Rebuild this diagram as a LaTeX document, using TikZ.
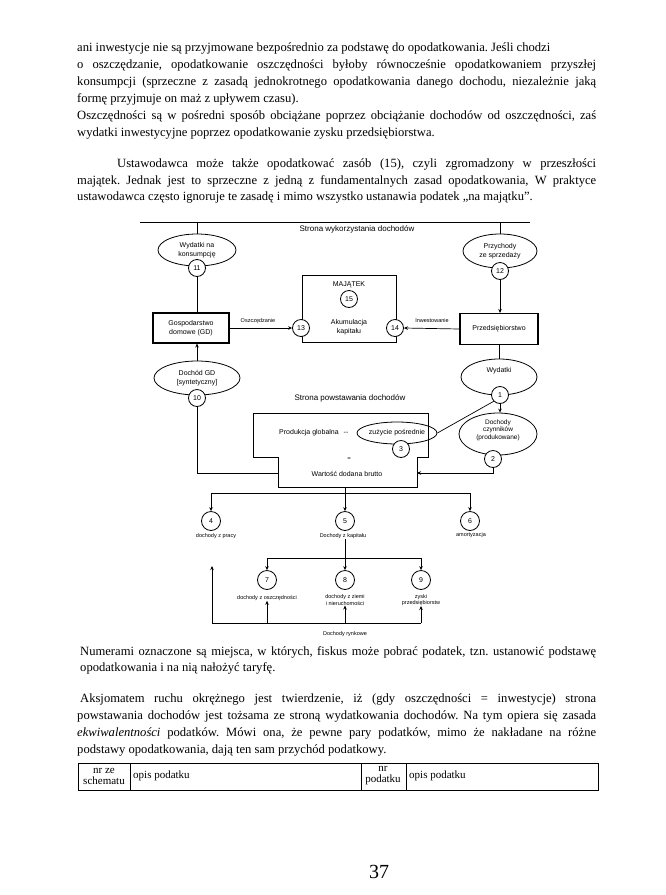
\documentclass[tikz,border=0pt]{standalone}
\usepackage{fontspec}
\setmainfont{Liberation Serif}
\newfontfamily\dia{Liberation Sans}
\usetikzlibrary{shapes.geometric,arrows.meta}
\frenchspacing
\begin{document}
\begin{tikzpicture}[x=1pt,y=-1pt,
  ln/.style={line width=0.7pt},
  arr/.style={line width=0.7pt,-{Stealth[length=4pt,width=3.5pt]}},
  circ/.style={circle,draw,fill=white,line width=0.8pt,minimum size=17pt,inner sep=0pt,font=\dia\fontsize{7}{8}\selectfont},
  bcirc/.style={circ,minimum size=19pt},
  ell/.style={ellipse,draw,line width=0.8pt,inner sep=0pt,align=center,font=\dia\fontsize{7}{9}\selectfont},
  bx/.style={draw,line width=1.1pt,align=center,inner sep=0pt,font=\dia\fontsize{7}{9}\selectfont},
  dtxt/.style={inner sep=0pt,align=center,font=\dia\fontsize{7}{9}\selectfont},
  lab/.style={inner sep=0pt,align=center,font=\dia\fontsize{5.5}{6.5}\selectfont},
  body/.style={anchor=base west,inner sep=0pt,font=\fontsize{12.6}{14}\selectfont},
  tab/.style={inner sep=0pt,align=center,font=\fontsize{11}{11}\selectfont}
]
\useasboundingbox[fill=white] (0,0) rectangle (666,895);

% ---------------- text above ----------------
\node[body] (p1) at (77,51) {ani inwestycje nie są przyjmowane bezpośrednio za podstawę do opodatkowania. Jeśli chodzi};
\node[body] (p2) at (77,68) {\makebox[519pt][s]{o oszczędzanie, opodatkowanie oszczędności byłoby równocześnie opodatkowaniem przyszłej}};
\node[body] (p3) at (77,85) {\makebox[519pt][s]{konsumpcji (sprzeczne z zasadą jednokrotnego opodatkowania danego dochodu, niezależnie jaką}};
\node[body] (p4) at (77,102) {formę przyjmuje on maż z upływem czasu).};
\node[body] (p5) at (77,119) {\makebox[519pt][s]{Oszczędności są w pośredni sposób obciążane poprzez obciążanie dochodów od oszczędności, zaś}};
\node[body] (p6) at (77,136) {wydatki inwestycyjne poprzez opodatkowanie zysku przedsiębiorstwa.};
\node[body] (p7) at (117,167) {\makebox[479pt][s]{Ustawodawca może także opodatkować zasób (15), czyli zgromadzony w przeszłości}};
\node[body] (p8) at (77,184) {\makebox[519pt][s]{majątek. Jednak jest to sprzeczne z jedną z fundamentalnych zasad opodatkowania, W praktyce}};
\node[body] (p9) at (77,200) {ustawodawca często ignoruje te zasadę i mimo wszystko ustanawia podatek „na majątku”.};

% ---------------- diagram ----------------
\coordinate (tl) at (140,222);
\coordinate (tr) at (530,222);
\coordinate (t1) at (197,222);
\coordinate (t2) at (500,222);
\draw[line width=1pt] (tl) -- (tr);
\node[dtxt,font=\dia\fontsize{8}{9}\selectfont] (swd) at (357,229) {Strona wykorzystania dochodów};

% left column
\node[ell,minimum width=78pt,minimum height=32pt] (wk) at (197,250) {Wydatki na\\konsumpcję};
\node[circ] (c11) at (197,268) {11};
\draw[ln] (t1) -- (wk.north);
\node[bx,minimum width=76pt,minimum height=30pt] (gd) at (191,328) {Gospodarstwo\\domowe (GD)};
\draw[ln] (c11.south) -- (c11.south |- gd.north);
\node[ell,minimum width=86pt,minimum height=34pt] (dgd) at (197,378) {Dochód GD\\{[}syntetyczny{]}};
\node[circ] (c10) at (197,398) {10};
\draw[arr] (dgd.north) -- (dgd.north |- gd.south);

% middle (majatek)
\node[draw,line width=0.9pt,minimum width=94pt,minimum height=67pt,inner sep=0pt] (mj) at (349,308.5) {};
\node[dtxt] (mjt) at (349,285) {MAJĄTEK};
\node[circ] (c15) at (349,299) {15};
\node[dtxt] (ak) at (349,327) {Akumulacja\\kapitału};
\node[circ] (c13) at (301,328) {13};
\node[circ] (c14) at (395,328) {14};
\draw[arr] (gd.east |- c13) -- (c13.west);
\node[lab] (losz) at (258,321) {Oszczędzanie};

% right column
\node[ell,minimum width=74pt,minimum height=34pt] (pz) at (500,251) {Przychody\\ze sprzedaży};
\node[circ] (c12) at (500,271) {12};
\draw[ln] (t2) -- (pz.north);
\node[bx,minimum width=78pt,minimum height=31pt] (pr) at (499,329) {Przedsiębiorstwo};
\draw[arr] (c12.south) -- (c12.south |- pr.north);
\draw[arr] (pr.west) -- (c14.east);
\node[lab] (linw) at (432,321) {Inwestowanie};
\node[ell,minimum width=76pt,minimum height=36pt] (wy) at (499,377) {Wydatki\\[6pt]};
\draw[ln] (pr.south -| wy.north) -- (wy.north);
\node[circ] (c1) at (500,395) {1};
\node[ell,minimum width=78pt,minimum height=42pt,font=\dia\fontsize{6.5}{7.5}\selectfont] (dc) at (498,434) {Dochody\\czynników\\(produkowane)\\[2pt]};
\draw[arr] (c1.south) -- (c1.south |- dc.north);
\node[circ] (c2) at (493,459) {2};

% production box
\node[dtxt,font=\dia\fontsize{8}{9}\selectfont] (spd) at (350,398) {Strona powstawania dochodów};
\coordinate (q1) at (253,413);
\coordinate (q2) at (428,413);
\coordinate (q3) at (428,457);
\coordinate (q4) at (417,457);
\coordinate (q5) at (417,487);
\coordinate (q6) at (278,487);
\coordinate (q7) at (278,457);
\coordinate (q8) at (253,457);
\draw[line width=0.9pt] (q1) -- (q2) -- (q3) -- (q4) -- (q5) -- (q6) -- (q7) -- (q8) -- cycle;
\node[dtxt] (pg) at (309,433) {Produkcja globalna};
\node[dtxt] (minus) at (346,433) {--};
\node[ell,minimum width=80pt,minimum height=22pt] (zp) at (397,433) {zużycie pośrednie};
\node[circ] (c3) at (401,449) {3};
\node[dtxt,font=\dia\fontsize{6}{6}\selectfont] (eq) at (349,459) {=};
\node[dtxt] (wdb) at (347,474) {Wartość dodana brutto};
\draw[ln] (c1.south west) -- (zp.east);
\coordinate (pl) at (278,473);
\coordinate (prr) at (417,473);
\draw[ln] (c10.south) |- (pl);
\draw[arr] (c2.south) |- (prr);

% distribution
\coordinate (pb) at (345,487);
\coordinate (hb) at (345,493);
\node[bcirc] (c4) at (211,521) {4};
\node[bcirc] (c5) at (345,521) {5};
\node[bcirc] (c6) at (470,521) {6};
\draw[ln] (pb) -- (hb);
\draw[ln] (c4.north |- hb) -- (c6.north |- hb);
\draw[arr] (c4.north |- hb) -- (c4.north);
\draw[arr] (hb) -- (c5.north);
\draw[arr] (c6.north |- hb) -- (c6.north);
\node[lab] (l4) at (216,536) {dochody z pracy};
\node[lab] (l5) at (343,536) {Dochody z kapitału};
\node[lab] (l6) at (471,535) {amortyzacja};

\coordinate (h2) at (345,558);
\node[bcirc] (c7) at (267,580) {7};
\node[bcirc] (c8) at (345,580) {8};
\node[bcirc] (c9) at (421,580) {9};
\draw[ln] (l5.south -| h2) -- (h2);
\draw[ln] (c7.north |- h2) -- (c9.north |- h2);
\draw[arr] (c7.north |- h2) -- (c7.north);
\draw[arr] (h2) -- (c8.north);
\draw[arr] (c9.north |- h2) -- (c9.north);
\node[lab] (l7) at (267,598) {dochody z oszczędności};
\node[lab] (l8) at (345,600) {dochody z ziemi\\i nieruchomości};
\node[lab] (l9) at (421,600) {zyski\\przedsiębiorstw};

\coordinate (b1) at (212,623);
\coordinate (b2) at (421,623);
\coordinate (btop) at (212,566);
\draw[ln] (b1) -- (b2);
\draw[arr] (b1) -- (btop);
\draw[arr] (l7.south |- b1) -- (l7.south);
\draw[arr] (l8.south |- b1) -- (l8.south);
\draw[arr] (b2) -- (l9.south -| b2);
\node[lab] (ldr) at (345,634) {Dochody rynkowe};

% ---------------- text below ----------------
\node[body] (n1) at (80,655) {\makebox[516pt][s]{Numerami oznaczone są miejsca, w których, fiskus może pobrać podatek, tzn. ustanowić podstawę}};
\node[body] (n2) at (80,671) {opodatkowania i na nią nałożyć taryfę.};
\node[body] (a1) at (80,702) {\makebox[516pt][s]{Aksjomatem ruchu okrężnego jest twierdzenie, iż (gdy oszczędności = inwestycje) strona}};
\node[body] (a2) at (77,719) {\makebox[519pt][s]{powstawania dochodów jest tożsama ze stroną wydatkowania dochodów. Na tym opiera się zasada}};
\node[body] (a3) at (77,736) {\makebox[519pt][s]{\textit{ekwiwalentności} podatków. Mówi ona, że pewne pary podatków, mimo że nakładane na różne}};
\node[body] (a4) at (77,753) {podstawy opodatkowania, dają ten sam przychód podatkowy.};

% table
\draw[line width=0.8pt] (78,763) rectangle (598,790);
\draw[line width=0.8pt] (130,763) -- (130,790);
\draw[line width=0.8pt] (361,763) -- (361,790);
\draw[line width=0.8pt] (406,763) -- (406,790);
\node[tab] (t11) at (104,776) {nr ze\\schematu};
\node[tab,anchor=west] (t12) at (133,776) {opis podatku};
\node[tab] (t13) at (383,776) {nr\\podatku};
\node[tab,anchor=west] (t14) at (409,776) {opis podatku};

\node[inner sep=0pt,font=\fontsize{20}{20}\selectfont] (pg37) at (379,872) {37};
\end{tikzpicture}
\end{document}
